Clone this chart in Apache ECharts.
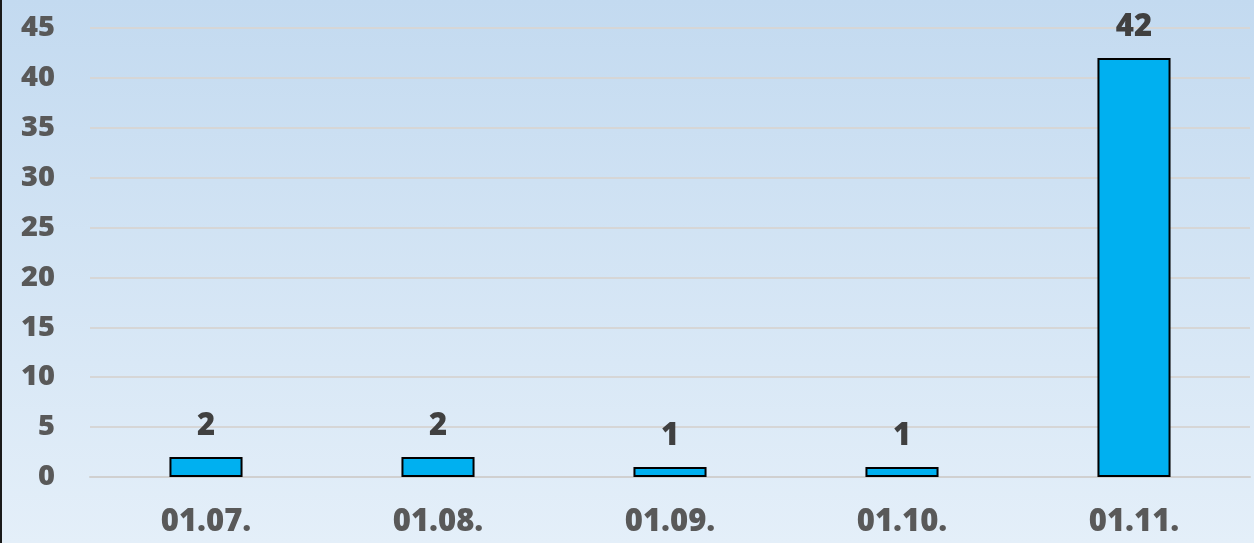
<!DOCTYPE html>
<html><head><meta charset="utf-8">
<script src="https://cdn.jsdelivr.net/npm/echarts@6/dist/echarts.min.js"></script>
<style>html,body{margin:0;padding:0;width:1254px;height:543px;overflow:hidden}
#c{width:1254px;height:543px;border-left:2px solid #1a1a1a;box-sizing:border-box}</style>
</head><body><div id="c"></div>
<script>
const categories = ['01.07.', '01.08.', '01.09.', '01.10.', '01.11.'];
const values = [2, 2, 1, 1, 42];
const chart = echarts.init(document.getElementById('c'));
const font = '"Open Sans", sans-serif';
chart.setOption({
  backgroundColor: new echarts.graphic.LinearGradient(0,0,0,1,[{offset:0,color:'#c3daf0'},{offset:1,color:'#e4eff9'}]),
  grid: {left: 88, right: 4, top: 28, bottom: 66},
  xAxis: {
    type: 'category', data: categories,
    axisLine: {show: true, lineStyle: {color: '#d0d0d0', width: 2}},
    axisTick: {show: false},
    axisLabel: {color: '#595959', fontSize: 31, fontWeight: 800, fontFamily: font, margin: 30}
  },
  yAxis: {
    type: 'value', min: 0, max: 45, interval: 5,
    axisLine: {show: false}, axisTick: {show: false},
    splitLine: {lineStyle: {color: '#d6d6d6', width: 2}},
    axisLabel: {color: '#595959', fontSize: 29, fontWeight: 800, fontFamily: font, margin: 35}
  },
  series: [{
    type: 'bar', data: values, barWidth: '31.5%',
    itemStyle: {color: '#00b0f0', borderColor: '#000', borderWidth: 2},
    label: {show: true, position: 'top', distance: 15, color: '#404040', fontSize: 31, fontWeight: 800, fontFamily: font}
  }]
});
</script></body></html>
